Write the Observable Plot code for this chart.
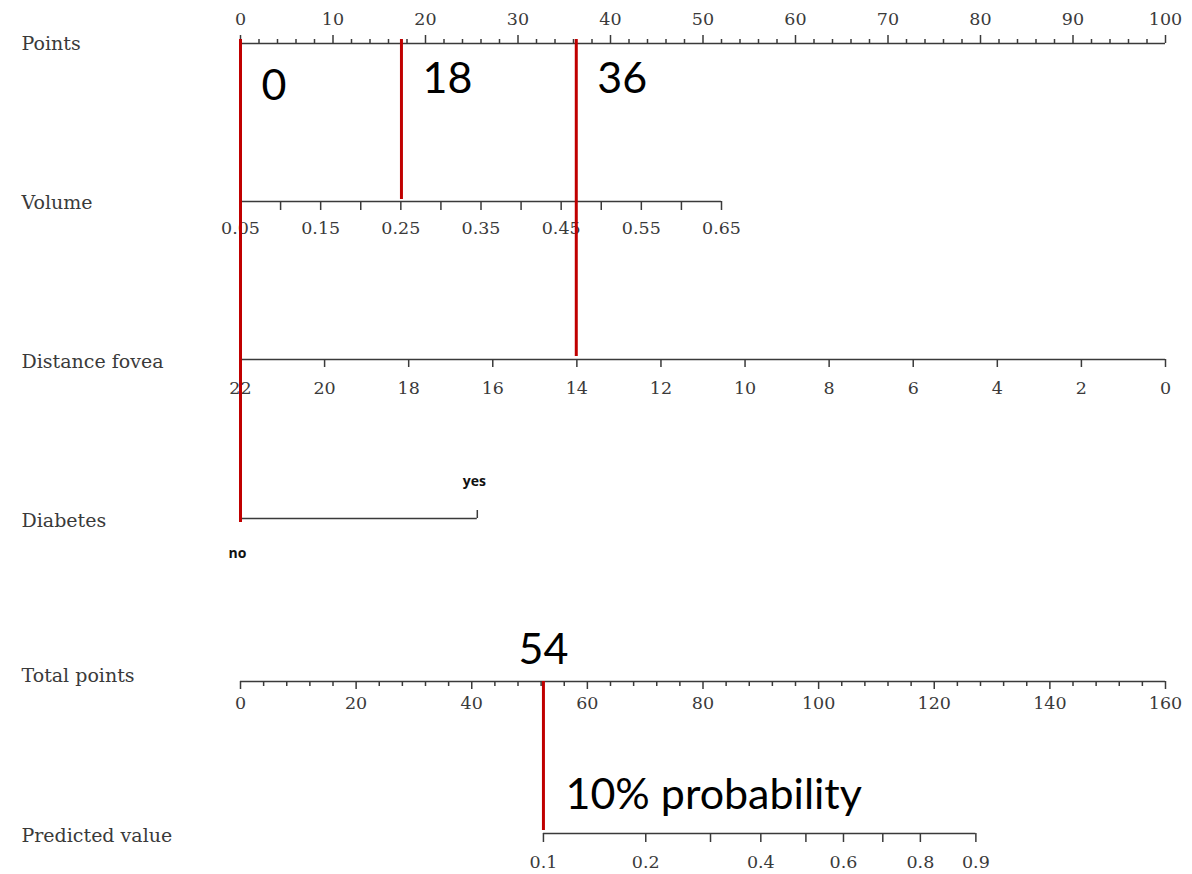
<!DOCTYPE html>
<html><head><meta charset="utf-8">
<script src="https://cdn.jsdelivr.net/npm/d3@7"></script>
<script src="https://cdn.jsdelivr.net/npm/@observablehq/plot@0.6"></script>
<style>body{margin:0;background:#fff}</style>
</head><body><div id="chart"></div>
<script>
// ---- data ----
const rowNames = ["Points", "Volume", "Distance fovea", "Diabetes", "Total points", "Predicted value"];
const pointsMajor = [0, 10, 20, 30, 40, 50, 60, 70, 80, 90, 100];
const pointsMinor = [2, 4, 6, 8, 12, 14, 16, 18, 22, 24, 26, 28, 32, 34, 36, 38, 42, 44, 46, 48, 52, 54, 56, 58, 62, 64, 66, 68, 72, 74, 76, 78, 82, 84, 86, 88, 92, 94, 96, 98];
const volumeTicks = [0.05, 0.10, 0.15, 0.20, 0.25, 0.30, 0.35, 0.40, 0.45, 0.50, 0.55, 0.60, 0.65];
const volumeLabels = [0.05, 0.15, 0.25, 0.35, 0.45, 0.55, 0.65];
const volumeRange = [0.05, 0.65];
const volumePointsRange = [0, 52];
const distanceTicks = [22, 20, 18, 16, 14, 12, 10, 8, 6, 4, 2, 0];
const distanceRange = [22, 0];
const distancePointsRange = [0, 100];
const diabetesLevels = ["no", "yes"];
const diabetesPoints = [0, 25.6];
const totalMajor = [0, 20, 40, 60, 80, 100, 120, 140, 160];
const totalMinor = [4, 8, 12, 16, 24, 28, 32, 36, 44, 48, 52, 56, 64, 68, 72, 76, 84, 88, 92, 96, 104, 108, 112, 116, 124, 128, 132, 136, 144, 148, 152, 156];
const totalRange = [0, 160];
const predValues = [0.1, 0.2, 0.3, 0.4, 0.5, 0.6, 0.7, 0.8, 0.9];
const predTotalPoints = [52.4, 70.1, 81.3, 90.0, 97.8, 104.3, 111.1, 117.6, 127.2];
const predLabels = [0.1, 0.2, 0.4, 0.6, 0.8, 0.9];
const redPoints = [0, 17.4, 36.3];
const redLabels = ["0", "18", "36"];
const redTotal = 52.4;
const redTotalLabel = "54";
const probLabel = "10% probability";

// ---- layout ----
const rowY = {"Points": 43, "Volume": 201, "Distance fovea": 359, "Diabetes": 518, "Total points": 681, "Predicted value": 833};
const titleDy = {"Points": 0, "Volume": 1, "Distance fovea": 2, "Diabetes": 2, "Total points": -6, "Predicted value": 2};
const serif = "DejaVu Serif";
const ink = "#3a3a3a";
const red = "#c00000";
const big = "Lato";

const volToPts = d3.scaleLinear(volumeRange, volumePointsRange);
const distToPts = d3.scaleLinear(distanceRange, distancePointsRange);
const totToPts = d3.scaleLinear(totalRange, [0, 100]);
const predToPts = (p) => totToPts(predTotalPoints[predValues.indexOf(p)]);
const fmt = (v) => String(+v.toFixed(2));

const tickStyle = {stroke: ink, strokeWidth: 1.5};
const labStyle = {fontFamily: serif, fontSize: 17.5, fill: ink};

function axisLine(row, x1, x2) {
  return Plot.ruleY([row], {y: d => rowY[d], x1: () => x1, x2: () => x2, stroke: ink, strokeWidth: 1.5});
}
function ticks(vals, toPts, row, len) {
  return Plot.ruleX(vals, {x: d => toPts(d), y1: () => rowY[row], y2: () => rowY[row] + len, ...tickStyle});
}
function labels(vals, toPts, row, off, fmtFn = fmt) {
  return Plot.text(vals, {x: d => toPts(d), y: () => rowY[row] + off, text: fmtFn, ...labStyle});
}
const id = d => d;

const chart = Plot.plot({
  width: 1192, height: 874,
  marginLeft: 0, marginRight: 0, marginTop: 0, marginBottom: 0,
  x: {domain: [0, 100], range: [240, 1165], axis: null},
  y: {domain: [0, 874], range: [0, 874], axis: null},
  style: {background: "#fff"},
  marks: [
    // row titles
    Plot.text(rowNames, {y: d => rowY[d] + titleDy[d], text: d => d, frameAnchor: "left", dx: 21, textAnchor: "start", fontFamily: serif, fontSize: 19, fill: ink}),
    // Points
    axisLine("Points", 0, 100),
    ticks(pointsMajor, id, "Points", -8),
    ticks(pointsMinor, id, "Points", -4),
    labels(pointsMajor, id, "Points", -24),
    // Volume
    axisLine("Volume", volToPts(0.05), volToPts(0.65)),
    ticks(volumeTicks, volToPts, "Volume", 9),
    labels(volumeLabels, volToPts, "Volume", 27),
    // Distance fovea
    axisLine("Distance fovea", 0, 100),
    ticks(distanceTicks, distToPts, "Distance fovea", 8),
    labels(distanceTicks, distToPts, "Distance fovea", 29),
    // Diabetes
    axisLine("Diabetes", diabetesPoints[0], diabetesPoints[1]),
    Plot.ruleX(diabetesLevels, {x: (d, i) => diabetesPoints[i], y1: () => rowY["Diabetes"], y2: () => rowY["Diabetes"] - 8, ...tickStyle}),
    Plot.text(diabetesLevels, {x: (d, i) => diabetesPoints[i], y: (d, i) => rowY["Diabetes"] + (i === 0 ? 35 : -37), text: id, dx: -3, fontFamily: "Open Sans", fontWeight: "bold", fontSize: 14, fill: "#111"}),
    // Total points
    axisLine("Total points", 0, 100),
    ticks(totalMajor, totToPts, "Total points", 8),
    ticks(totalMinor, totToPts, "Total points", 5),
    labels(totalMajor, totToPts, "Total points", 22),
    // Predicted value
    axisLine("Predicted value", predToPts(0.1), predToPts(0.9)),
    ticks(predValues, predToPts, "Predicted value", 9),
    labels(predLabels, predToPts, "Predicted value", 29),
    // red guide lines
    Plot.ruleX(redPoints, {x: id, y1: () => 39, y2: (d, i) => [522, 199, 356][i], stroke: red, strokeWidth: 3}),
    Plot.ruleX([redTotal], {x: d => totToPts(d), y1: () => rowY["Total points"], y2: () => 830, stroke: red, strokeWidth: 3}),
    // annotations
    Plot.text(redLabels, {x: (d, i) => redPoints[i], y: (d, i) => i === 0 ? 86 : 79, text: id, textAnchor: "start", dx: 21, fontFamily: big, fontSize: 43, fill: "#000"}),
    Plot.text([redTotalLabel], {x: () => totToPts(redTotal), y: () => 650, text: id, fontFamily: big, fontSize: 43, fill: "#000"}),
    Plot.text([probLabel], {x: () => totToPts(redTotal), y: () => 795, text: id, textAnchor: "start", dx: 22, fontFamily: big, fontSize: 43, fill: "#000"})
  ]
});
document.getElementById("chart").appendChild(chart);
</script>
</body></html>
